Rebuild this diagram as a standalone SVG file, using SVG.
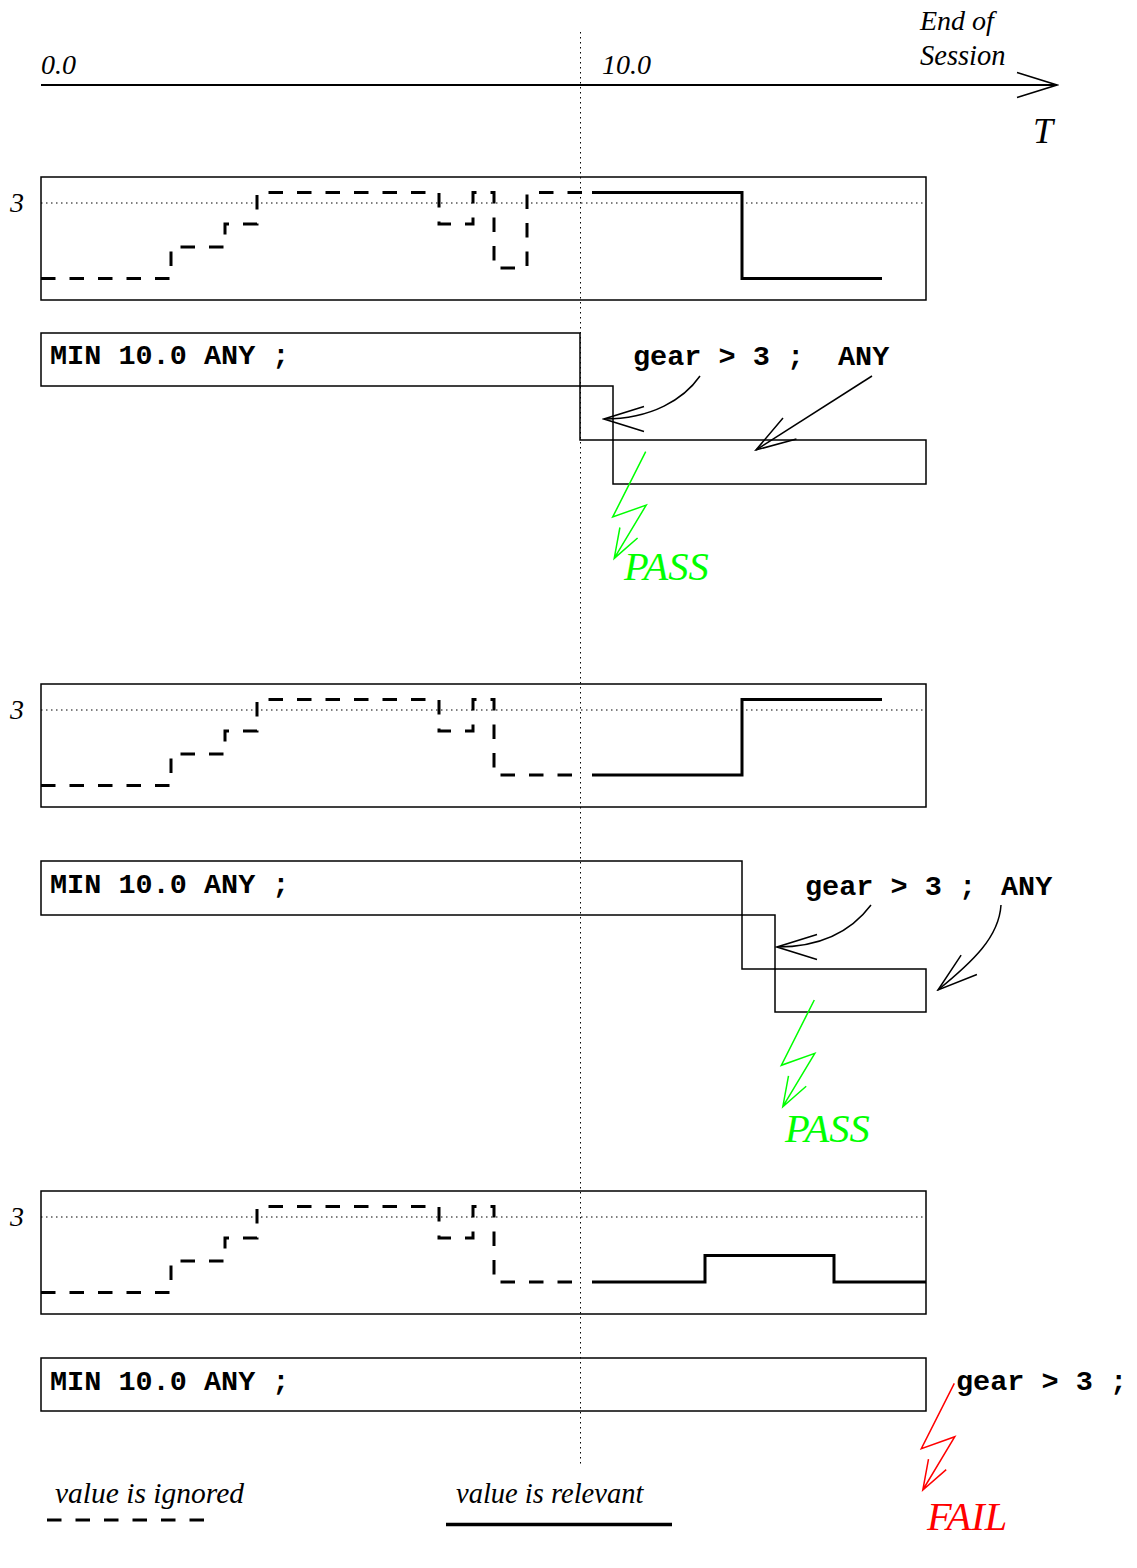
<svg xmlns="http://www.w3.org/2000/svg" width="1137" height="1568" viewBox="0 0 1137 1568">
<style>
.lbl{font-family:"Liberation Serif","Times New Roman",serif;font-style:italic;font-size:28px;fill:#000}
.code{font-family:"Liberation Mono","Courier New",monospace;font-weight:bold;font-size:28.5px;fill:#000}
.box{fill:none;stroke:#000;stroke-width:1.5}
.dot{fill:none;stroke:#000;stroke-width:1;stroke-dasharray:1.5 3.5}
.ign{fill:none;stroke:#000;stroke-width:3;stroke-dasharray:14.5 14}
.rel{fill:none;stroke:#000;stroke-width:3}
.arr{fill:none;stroke:#000;stroke-width:1.5;marker-end:url(#open)}
.pass{fill:#00ff00}
.fail{fill:#ff0000}
</style>
<defs>
<marker id="open" viewBox="-42 -15 44 30" refX="0" refY="0" markerWidth="44" markerHeight="30" markerUnits="userSpaceOnUse" orient="auto">
<path d="M-40,-12.5 L0,0 L-40,12.5" fill="none" stroke="#000" stroke-width="1.5"/>
</marker>
<path id="bolt" d="M0,0 L-33,65.3 L0.5,53.4 L-31.5,106.7 M-8.1,86.3 L-31.5,106.7 L-25.8,75.8" fill="none" stroke-width="1.5"/>
</defs>
<rect width="1137" height="1568" fill="#fff"/>

<g id="axis">
<line x1="41" y1="85" x2="1057" y2="85" stroke="#000" stroke-width="2" marker-end="url(#open)"/>
<text class="lbl" x="41" y="74">0.0</text>
<text class="lbl" x="602" y="74">10.0</text>
<text class="lbl" x="920" y="30">End of</text>
<text class="lbl" x="920" y="65" style="font-size:28.5px">Session</text>
<text class="lbl" x="1033" y="143" style="font-size:36px">T</text>
</g>

<g id="time-10">
<line class="dot" x1="580.5" y1="32" x2="580.5" y2="1465"/>
</g>

<g id="wave1" transform="translate(0,177)">
<rect class="box" x="41" y="0" width="885" height="123"/>
<line class="dot" x1="41" y1="26" x2="926" y2="26"/>
<text class="lbl" x="10" y="35">3</text>
<path class="ign" d="M41,101.5 H171 V70 H225 V47 H257 V15.5 H439 V47 H473 V15.5 H494 V91 H527 V15.5 H582"/>
<path class="rel" d="M592,15.5 H742 V101.5 H882"/>
</g>

<g id="seq1-min"><rect class="box" x="41" y="333" width="539" height="53"/><text class="code" x="50" y="364">MIN 10.0 ANY ;</text></g>
<g id="seq1-gear"><rect class="box" x="580" y="386" width="33" height="54"/><text class="code" x="633" y="365">gear &gt; 3 ;</text></g>
<g id="seq1-any"><rect class="box" x="613" y="440" width="313" height="44"/><text class="code" x="838" y="365">ANY</text></g>
<g id="seq1-result"><text class="lbl pass" x="624" y="580" style="font-size:40.5px">PASS</text></g>

<g id="wave2" transform="translate(0,684)">
<rect class="box" x="41" y="0" width="885" height="123"/>
<line class="dot" x1="41" y1="26" x2="926" y2="26"/>
<text class="lbl" x="10" y="35">3</text>
<path class="ign" d="M41,101.5 H171 V70 H225 V47 H257 V15.5 H439 V47 H473 V15.5 H494 V91 H580"/>
<path class="rel" d="M592,91 H742 V15.5 H882"/>
</g>

<g id="seq2-min"><rect class="box" x="41" y="861" width="701" height="54"/><text class="code" x="50" y="893">MIN 10.0 ANY ;</text></g>
<g id="seq2-gear"><rect class="box" x="742" y="915" width="33" height="54"/><text class="code" x="805" y="895">gear &gt; 3 ;</text></g>
<g id="seq2-any"><rect class="box" x="775" y="969" width="151" height="43"/><text class="code" x="1001" y="895">ANY</text></g>
<g id="seq2-result"><text class="lbl pass" x="785" y="1142" style="font-size:40.5px">PASS</text></g>

<g id="wave3" transform="translate(0,1191)">
<rect class="box" x="41" y="0" width="885" height="123"/>
<line class="dot" x1="41" y1="26" x2="926" y2="26"/>
<text class="lbl" x="10" y="35">3</text>
<path class="ign" d="M41,101.5 H171 V70 H225 V47 H257 V15.5 H439 V47 H473 V15.5 H494 V91 H580"/>
<path class="rel" d="M592,91 H705 V64.5 H834 V91 H926"/>
</g>

<g id="seq3-min"><rect class="box" x="41" y="1358" width="885" height="53"/><text class="code" x="50" y="1390">MIN 10.0 ANY ;</text></g>
<g id="seq3-gear"><text class="code" x="956" y="1390">gear &gt; 3 ;</text></g>
<g id="seq3-result"><text class="lbl fail" x="927" y="1530" style="font-size:40.5px">FAIL</text></g>

<g id="connectors">
<path class="arr" d="M700,376 C684,399 652,419 604,419"/>
<path class="arr" d="M872,376 L756,450"/>
<use href="#bolt" x="645.7" y="451.7" stroke="#00ff00"/>
<path class="arr" d="M871,905 C853,929 823,947 777,947"/>
<path class="arr" d="M1001,905 C999,937 973,961.5 938,990"/>
<use href="#bolt" x="814.3" y="1000" stroke="#00ff00"/>
<use href="#bolt" x="954.3" y="1383.3" stroke="#ff0000"/>
</g>

<g id="legend">
<text class="lbl" x="55" y="1503" style="font-size:29.5px">value is ignored</text>
<line class="ign" x1="47" y1="1520" x2="205" y2="1520"/>
<text class="lbl" x="456" y="1503" style="font-size:28.5px">value is relevant</text>
<line class="rel" x1="446" y1="1524.5" x2="672" y2="1524.5" style="stroke-width:3.5"/>
</g>
</svg>
